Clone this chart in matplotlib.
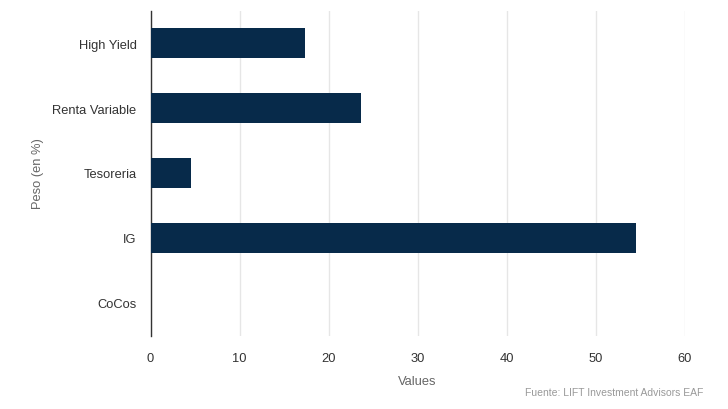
import matplotlib
matplotlib.use("Agg")
import matplotlib.pyplot as plt

categories = ["High Yield", "Renta Variable", "Tesoreria", "IG", "CoCos"]
values = [17.4, 23.6, 4.6, 54.5, 0]
xticks = [0, 10, 20, 30, 40, 50, 60]

plt.rcParams['font.family'] = ['Liberation Sans', 'DejaVu Sans']

W, H = 728, 410
fig = plt.figure(figsize=(W/100, H/100), dpi=100)
ax = fig.add_axes([150.5/W, (H-336.5)/H, (684.5-150.5)/W, (336.5-11.5)/H])

ypos = list(range(len(categories)))
ax.barh(ypos, values, height=0.47, color="#072a4a", zorder=3)
ax.set_ylim(len(categories)-0.5, -0.5)
ax.set_xlim(0, 60)
ax.set_xticks(xticks)
ax.set_xticklabels([str(t) for t in xticks])
ax.set_yticks(ypos)
ax.set_yticklabels(categories)
ax.grid(axis="x", color="#e6e6e6", linewidth=1, zorder=0)
ax.tick_params(axis="both", length=0, labelsize=9.3, labelcolor="#333333")
ax.tick_params(axis="y", pad=10)
ax.tick_params(axis="x", pad=12)
for s in ["top", "right", "bottom"]:
    ax.spines[s].set_visible(False)
ax.spines["left"].set_color("#333333")
ax.spines["left"].set_linewidth(1)
ax.set_xlabel("Values", fontsize=9.3, color="#666666", labelpad=8)
ax.set_ylabel("Peso (en %)", fontsize=9.3, color="#666666", labelpad=6)

fig.text(703/W, 1-393/H, "Fuente: LIFT Investment Advisors EAF", ha="right", va="center",
         fontsize=7.5, color="#999999")

fig.savefig("out.png", dpi=100)
